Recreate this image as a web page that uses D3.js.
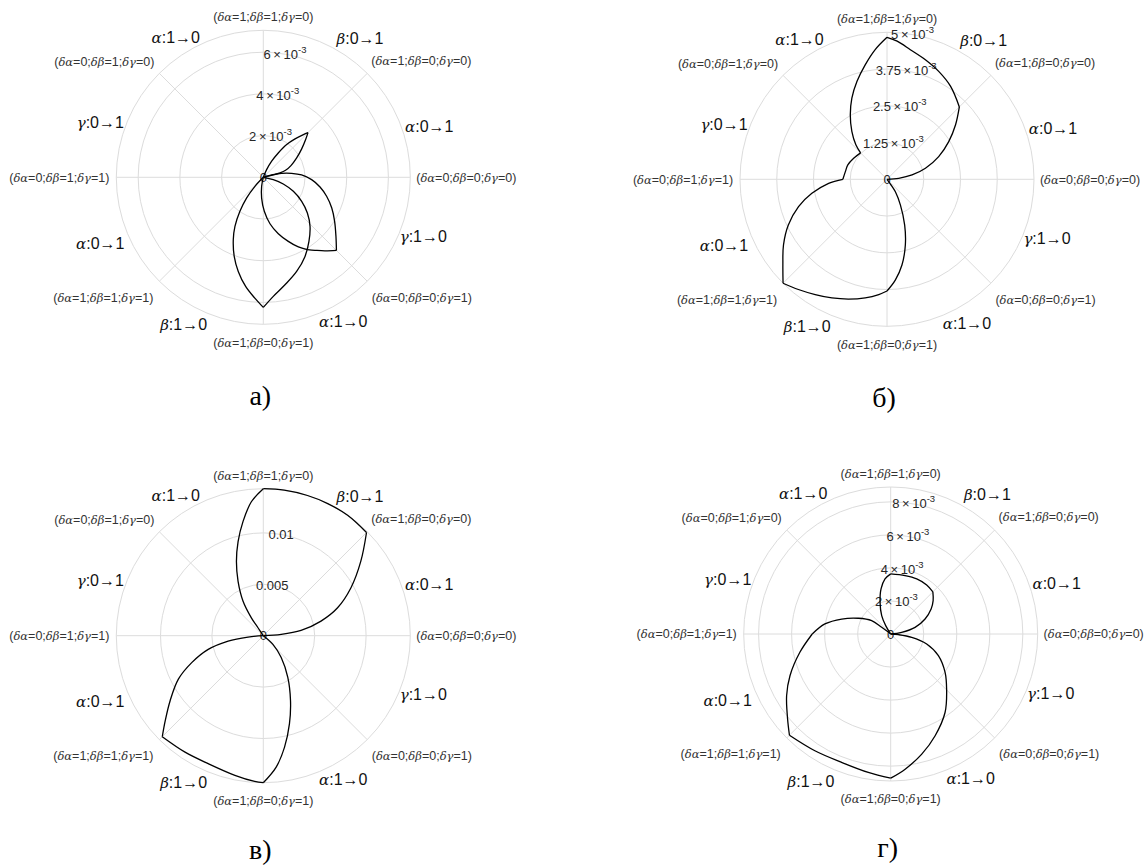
<!DOCTYPE html>
<html>
<head>
<meta charset="utf-8">
<script src="https://cdn.jsdelivr.net/npm/d3@7"></script>
<style>
body { margin: 0; background: #fff; }
svg text { font-family: "Liberation Sans", Arial, sans-serif; fill: #262626; }
</style>
</head>
<body>
<svg width="1147" height="868"></svg>
<script>
var WIDTH = 1147;
var HEIGHT = 868;

// ---- data ----
var panelTitles = ['а)', 'б)', 'в)', 'г)'];
var rMaxValues = [7.05e-3, 5e-3, 1.43e-2, 8.9e-3];
var rTickValues = [
	[2e-3, 4e-3, 6e-3],
	[1.25e-3, 2.5e-3, 3.75e-3, 5e-3],
	[0.005, 0.01],
	[2e-3, 4e-3, 6e-3, 8e-3]
];
// [mantissa, exponent]
var rTickLabels = [
	[['2', '-3'], ['4', '-3'], ['6', '-3']],
	[['1.25', '-3'], ['2.5', '-3'], ['3.75', '-3'], ['5', '-3']],
	[['0.005'], ['0.01']],
	[['2', '-3'], ['4', '-3'], ['6', '-3'], ['8', '-3']]
];
var stateAngles = [0, 45, 90, 135, 180, 225, 270, 315];
var stateLabels = [
	'(δα=0;δβ=0;δγ=0)', '(δα=1;δβ=0;δγ=0)', '(δα=1;δβ=1;δγ=0)', '(δα=0;δβ=1;δγ=0)',
	'(δα=0;δβ=1;δγ=1)', '(δα=1;δβ=1;δγ=1)', '(δα=1;δβ=0;δγ=1)', '(δα=0;δβ=0;δγ=1)'
];
var transitionLabels = ['α:0→1', 'β:0→1', 'α:1→0', 'γ:0→1', 'α:0→1', 'β:1→0', 'α:1→0', 'γ:1→0'];

// curves: list of edges, each edge = [[theta in degrees, r], ...]
var curvesA = [
	[[60, 0], [66.5, 0.40e-3], [62.5, 0.87e-3], [58.4, 1.37e-3], [54.5, 1.93e-3], [50.4, 2.39e-3], [46.8, 2.81e-3], [45, 3.03e-3]],
	[[45, 3.03e-3], [41.7, 2.72e-3], [36.5, 2.29e-3], [30.1, 1.85e-3], [22.9, 1.44e-3], [17.4, 1.12e-3], [14.6, 0.83e-3], [13.1, 0.49e-3], [13, 0]],
	[[15, 0], [15.6, 0.42e-3], [12.3, 0.90e-3], [8.0, 1.37e-3], [3.5, 1.84e-3], [357.2, 2.32e-3], [350.3, 2.76e-3], [343.3, 3.17e-3], [335.8, 3.60e-3], [328.3, 4.02e-3], [320.9, 4.49e-3], [315, 4.96e-3]],
	[[315, 4.96e-3], [309.9, 4.60e-3], [305.3, 4.29e-3], [301.3, 4.06e-3]],
	[[301.3, 4.06e-3], [296.7, 3.74e-3], [291.3, 3.30e-3], [284.9, 2.80e-3], [278.2, 2.25e-3], [271.7, 1.63e-3], [265.4, 1.00e-3], [259.5, 0.44e-3], [255, 0]],
	[[228, 0], [227.2, 0.59e-3], [231.1, 1.27e-3], [235.5, 1.98e-3], [240, 2.72e-3], [244.3, 3.32e-3], [249.8, 4.04e-3], [255.1, 4.67e-3], [260.8, 5.30e-3], [266, 5.81e-3], [270, 6.24e-3]],
	[[270, 6.24e-3], [274.8, 5.73e-3], [281.4, 5.26e-3], [289.5, 4.79e-3], [297.8, 4.29e-3], [305.5, 3.77e-3], [313.6, 3.25e-3], [321, 2.72e-3], [328, 2.17e-3], [335, 1.59e-3], [341.6, 1.01e-3], [346.9, 0.49e-3], [350, 0]]
];
var curvesB = [
	[[0, 0], [4.9, 0.40e-3], [9.8, 0.865e-3], [16.0, 1.36e-3], [23.7, 1.92e-3], [31.4, 2.46e-3], [38.5, 2.98e-3], [45, 3.48e-3]],
	[[45, 3.48e-3], [55.6, 3.83e-3], [64.4, 4.07e-3], [72.2, 4.27e-3], [79.8, 4.48e-3], [85.8, 4.71e-3], [90, 4.83e-3]],
	[[90, 4.83e-3], [95.2, 4.43e-3], [100.7, 3.97e-3], [107.1, 3.48e-3], [113.4, 3.01e-3], [119.7, 2.52e-3], [126.3, 2.02e-3], [132.1, 1.58e-3], [135, 1.27e-3]],
	[[135, 1.27e-3], [147.8, 1.34e-3], [159.8, 1.42e-3], [169.6, 1.44e-3], [180, 1.50e-3]],
	[[180, 1.50e-3], [183.9, 1.99e-3], [190.6, 2.60e-3], [197.2, 3.15e-3], [204.9, 3.70e-3], [212.4, 4.17e-3], [219.5, 4.59e-3], [225, 5.0e-3]],
	[[225, 5.0e-3], [231.2, 4.81e-3], [238.1, 4.62e-3], [245.1, 4.45e-3], [252.2, 4.28e-3], [259.6, 4.10e-3], [265.9, 3.93e-3], [270, 3.80e-3]],
	[[270, 3.80e-3], [274.7, 3.44e-3], [279.9, 2.96e-3], [285.6, 2.32e-3], [291.1, 1.67e-3], [297.5, 0.99e-3], [304, 0.51e-3], [306, 0.2e-3], [310, 0]]
];
var curvesC = [
	[[0, 0], [4.2, 1.75e-3], [8.0, 3.71e-3], [14.2, 5.79e-3], [20.6, 7.72e-3], [28.6, 9.70e-3], [37.3, 11.92e-3], [45, 14.2e-3]],
	[[45, 14.2e-3], [55, 14.3e-3], [64, 14.3e-3], [72.5, 14.3e-3], [81.8, 14.3e-3], [90, 14.3e-3]],
	[[90, 14.3e-3], [95.1, 13.08e-3], [100.1, 11.27e-3], [105, 9.48e-3], [109.9, 7.68e-3], [114.9, 5.83e-3], [120.4, 3.89e-3], [123.7, 2.09e-3], [123.7, 0.93e-3], [125, 0]],
	[[180, 0], [185, 1.49e-3], [188.6, 3.46e-3], [193.9, 5.52e-3], [200.6, 7.44e-3], [207.1, 9.28e-3], [214.9, 11.05e-3], [220.9, 12.62e-3], [225, 13.9e-3]],
	[[225, 13.9e-3], [236.1, 13.65e-3], [246.7, 13.55e-3], [258.5, 13.86e-3], [266.6, 14.2e-3], [270, 14.3e-3]],
	[[270, 14.3e-3], [275.6, 12.84e-3], [280.8, 11.03e-3], [286.5, 8.95e-3], [292.7, 6.86e-3], [300.4, 4.71e-3], [309.3, 2.75e-3], [318.1, 1.26e-3], [322, 0]]
];
var curvesD = [
	[[0, 0], [8.6, 0.67e-3], [15.3, 1.53e-3], [23.6, 2.27e-3], [31.8, 2.88e-3], [38.2, 3.27e-3], [45, 3.61e-3]],
	[[45, 3.61e-3], [53.7, 3.68e-3], [64.7, 3.69e-3], [76.2, 3.64e-3], [90, 3.64e-3]],
	[[90, 3.64e-3], [95.9, 3.35e-3], [102.1, 2.79e-3], [108.6, 2.02e-3], [116.1, 1.24e-3], [121, 0.59e-3], [125, 0]],
	[[140, 0], [143.5, 0.68e-3], [144.9, 1.41e-3], [154.1, 2.18e-3], [163, 3.10e-3], [171.3, 4.03e-3], [180, 4.75e-3]],
	[[180, 4.75e-3], [191.4, 5.61e-3], [202.5, 6.60e-3], [210.7, 7.33e-3], [219.5, 8.09e-3], [225, 8.67e-3]],
	[[225, 8.67e-3], [237, 8.43e-3], [249.1, 8.32e-3], [260.8, 8.49e-3], [270, 8.73e-3]],
	[[270, 8.73e-3], [276.1, 8.23e-3], [284.5, 7.51e-3], [293.6, 6.72e-3], [304.7, 5.78e-3], [315, 4.79e-3]],
	[[315, 4.79e-3], [324.8, 4.03e-3], [335.6, 3.17e-3], [344.5, 2.26e-3], [351, 1.29e-3], [355, 0.47e-3], [360, 0]]
];
var panelCurves = [curvesA, curvesB, curvesC, curvesD];

// ---- layout ----
var RADIUS = 147;
var panelCenters = [[263.3, 177.3], [887, 179.3], [263.3, 635.7], [890.7, 634]];
// text centre offsets from the pole (px)
var stateLabelOffsets = [[203, 0], [158, -117], [0, -160.5], [-159, -116], [-204, 0], [-160, 120], [0, 165], [158.5, 120]];
var transitionLabelOffsets = [[166, -51], [96.7, -139.3], [-87.5, -140.3], [-163, -55], [-163, 66], [-79.7, 147], [80, 144], [160, 59]];
var TITLE_DY = [228, 228, 223, 223];
var RTICK_ANGLE = 80;
var GREEK_FONT = '"DejaVu Serif", "Liberation Serif", serif';

var svg = d3.select('svg')
	.attr('width', WIDTH)
	.attr('height', HEIGHT);

var toRad = function(deg){ return deg * Math.PI / 180; };

// writes a label, greek letters in italic serif
var richText = function(textSel, str, greekSize){
	str.split(/([αβγδ])/).forEach(function(part){
		if(part === '') return;
		var t = textSel.append('tspan').text(part);
		if(/[αβγδ]/.test(part)){
			t.style('font-family', GREEK_FONT)
				.style('font-style', 'italic')
				.style('font-size', greekSize);
		}
	});
};

panelCurves.forEach(function(curves, p){
	var cx = panelCenters[p][0];
	var cy = panelCenters[p][1];
	var rScale = d3.scaleLinear().domain([0, rMaxValues[p]]).range([0, RADIUS]);

	var g = svg.append('g').attr('transform', 'translate(' + cx + ',' + cy + ')');

	// grid rings
	var rings = rTickValues[p].filter(function(v){ return v < rMaxValues[p] * 0.999; });
	g.selectAll('circle.ring')
		.data(rings.concat([rMaxValues[p]]))
		.enter()
		.append('circle')
		.attr('class', 'ring')
		.attr('r', function(d){ return rScale(d); })
		.attr('fill', 'none')
		.attr('stroke', '#dcdcdc')
		.attr('stroke-width', 1);

	// spokes
	g.selectAll('line.spoke')
		.data(stateAngles)
		.enter()
		.append('line')
		.attr('class', 'spoke')
		.attr('x1', 0).attr('y1', 0)
		.attr('x2', function(d){ return RADIUS * Math.cos(toRad(d)); })
		.attr('y2', function(d){ return -RADIUS * Math.sin(toRad(d)); })
		.attr('stroke', '#dcdcdc')
		.attr('stroke-width', 1);

	// r tick labels along the 80 degree ray
	var tickData = [[0, ['0']]].concat(rTickValues[p].map(function(v, i){ return [v, rTickLabels[p][i]]; }));
	tickData.forEach(function(d){
		var rr = rScale(d[0]);
		var t = g.append('text')
			.attr('x', rr * Math.cos(toRad(RTICK_ANGLE)))
			.attr('y', -rr * Math.sin(toRad(RTICK_ANGLE)))
			.attr('dy', '0.35em')
			.attr('text-anchor', 'middle')
			.style('font-size', '13px');
		var label = d[1];
		if(label.length > 1){
			t.append('tspan').text(label[0] + '\u2009×\u200910');
			t.append('tspan').attr('dy', -6).style('font-size', '9.5px').text(label[1]);
		} else {
			t.text(label[0]);
		}
	});

	// curves
	var line = d3.lineRadial()
		.angle(function(d){ return toRad(90 - d[0]); })
		.radius(function(d){ return rScale(d[1]); })
		.curve(d3.curveCatmullRom);
	g.selectAll('path.edge')
		.data(curves)
		.enter()
		.append('path')
		.attr('class', 'edge')
		.attr('d', line)
		.attr('fill', 'none')
		.attr('stroke', '#000')
		.attr('stroke-width', 1.3);

	// state labels
	stateLabels.forEach(function(s, i){
		var t = g.append('text')
			.attr('x', stateLabelOffsets[i][0])
			.attr('y', stateLabelOffsets[i][1])
			.attr('dy', '0.35em')
			.attr('text-anchor', 'middle')
			.style('font-size', '12.5px')
			.style('fill', '#333');
		richText(t, s, '11.5px');
	});

	// transition labels
	transitionLabels.forEach(function(s, i){
		var t = g.append('text')
			.attr('x', transitionLabelOffsets[i][0])
			.attr('y', transitionLabelOffsets[i][1])
			.attr('dy', '0.35em')
			.attr('text-anchor', 'middle')
			.style('font-size', '16px')
			.style('fill', '#111');
		richText(t, s, '15px');
	});

	// panel title
	g.append('text')
		.attr('x', -3)
		.attr('y', TITLE_DY[p])
		.attr('text-anchor', 'middle')
		.style('font-family', '"Liberation Serif", "Times New Roman", serif')
		.style('font-size', '28px')
		.style('fill', '#000')
		.text(panelTitles[p]);
});
</script>
</body>
</html>
